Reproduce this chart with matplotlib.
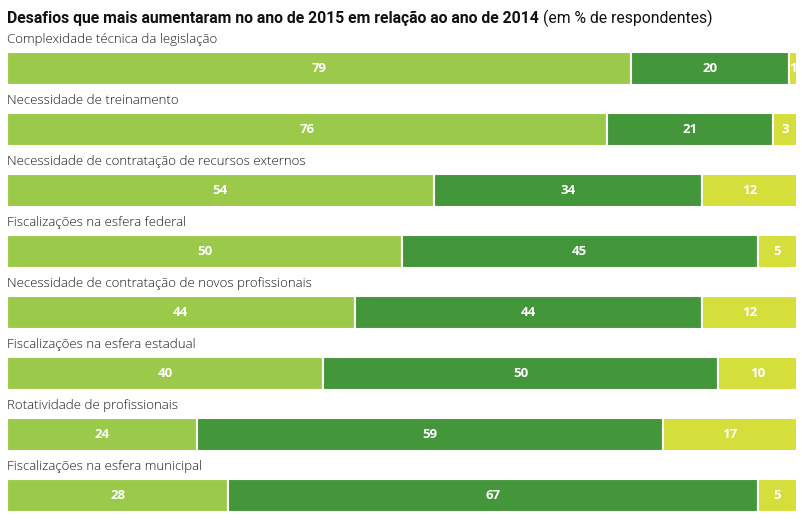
import numpy as np
import matplotlib.pyplot as plt

# Data
categories = [
    "Complexidade técnica da legislação",
    "Necessidade de treinamento",
    "Necessidade de contratação de recursos externos",
    "Fiscalizações na esfera federal",
    "Necessidade de contratação de novos profissionais",
    "Fiscalizações na esfera estadual",
    "Rotatividade de profissionais",
    "Fiscalizações na esfera municipal",
]
seg1 = [79, 76, 54, 50, 44, 40, 24, 28]
seg2 = [20, 21, 34, 45, 44, 50, 59, 67]
seg3 = [1, 3, 12, 5, 12, 10, 17, 5]

colors = ["#9BCA4A", "#43963A", "#D5DF3C"]

fig = plt.figure(figsize=(8.02, 5.2), dpi=100)
W, H = 802, 520
bar_h = 0.54
n = len(categories)
top_px, bot_px = 52, 512
ax = fig.add_axes([7 / W, 1 - bot_px / H, 790 / W, (bot_px - top_px) / H])
ax.set_xlim(0, 100)
ax.set_ylim(n - 1 + bar_h / 2, -bar_h / 2)
ax.axis("off")

label_font = ["Open Sans", "DejaVu Sans"]
y = np.arange(n)
left = np.zeros(n)
for vals, c in zip([seg1, seg2, seg3], colors):
    vals = np.array(vals)
    ax.barh(y, vals, left=left, height=bar_h, color=c, edgecolor="white", linewidth=1.5)
    for yi, l, v in zip(y, left, vals):
        ax.text(l + v / 2, yi, str(v), ha="center", va="center", color="white",
                fontsize=9.5, fontweight="bold", family=label_font)
    left += vals

for yi, cat in zip(y, categories):
    ax.text(0, yi - bar_h / 2 - 0.1, cat, ha="left", va="bottom", fontsize=9.5,
            color="#1a1a1a", family=label_font, fontweight="light")

title_font = ["Roboto", "DejaVu Sans"]
t1 = fig.text(7 / W, 1 - 18 / H, "Desafios que mais aumentaram no ano de 2015 em relação ao ano de 2014",
              ha="left", va="center", fontsize=11.3, fontweight="bold",
              family=title_font, color="#111111")
# second part of the title in regular weight, placed right after the bold part
fig.canvas.draw()
r = t1.get_window_extent()
fig.text((r.x1 + 4) / W, 1 - 18 / H, "(em % de respondentes)", ha="left", va="center",
         fontsize=11.3, family=title_font, color="#111111")

fig.savefig("out.png", dpi=100)
